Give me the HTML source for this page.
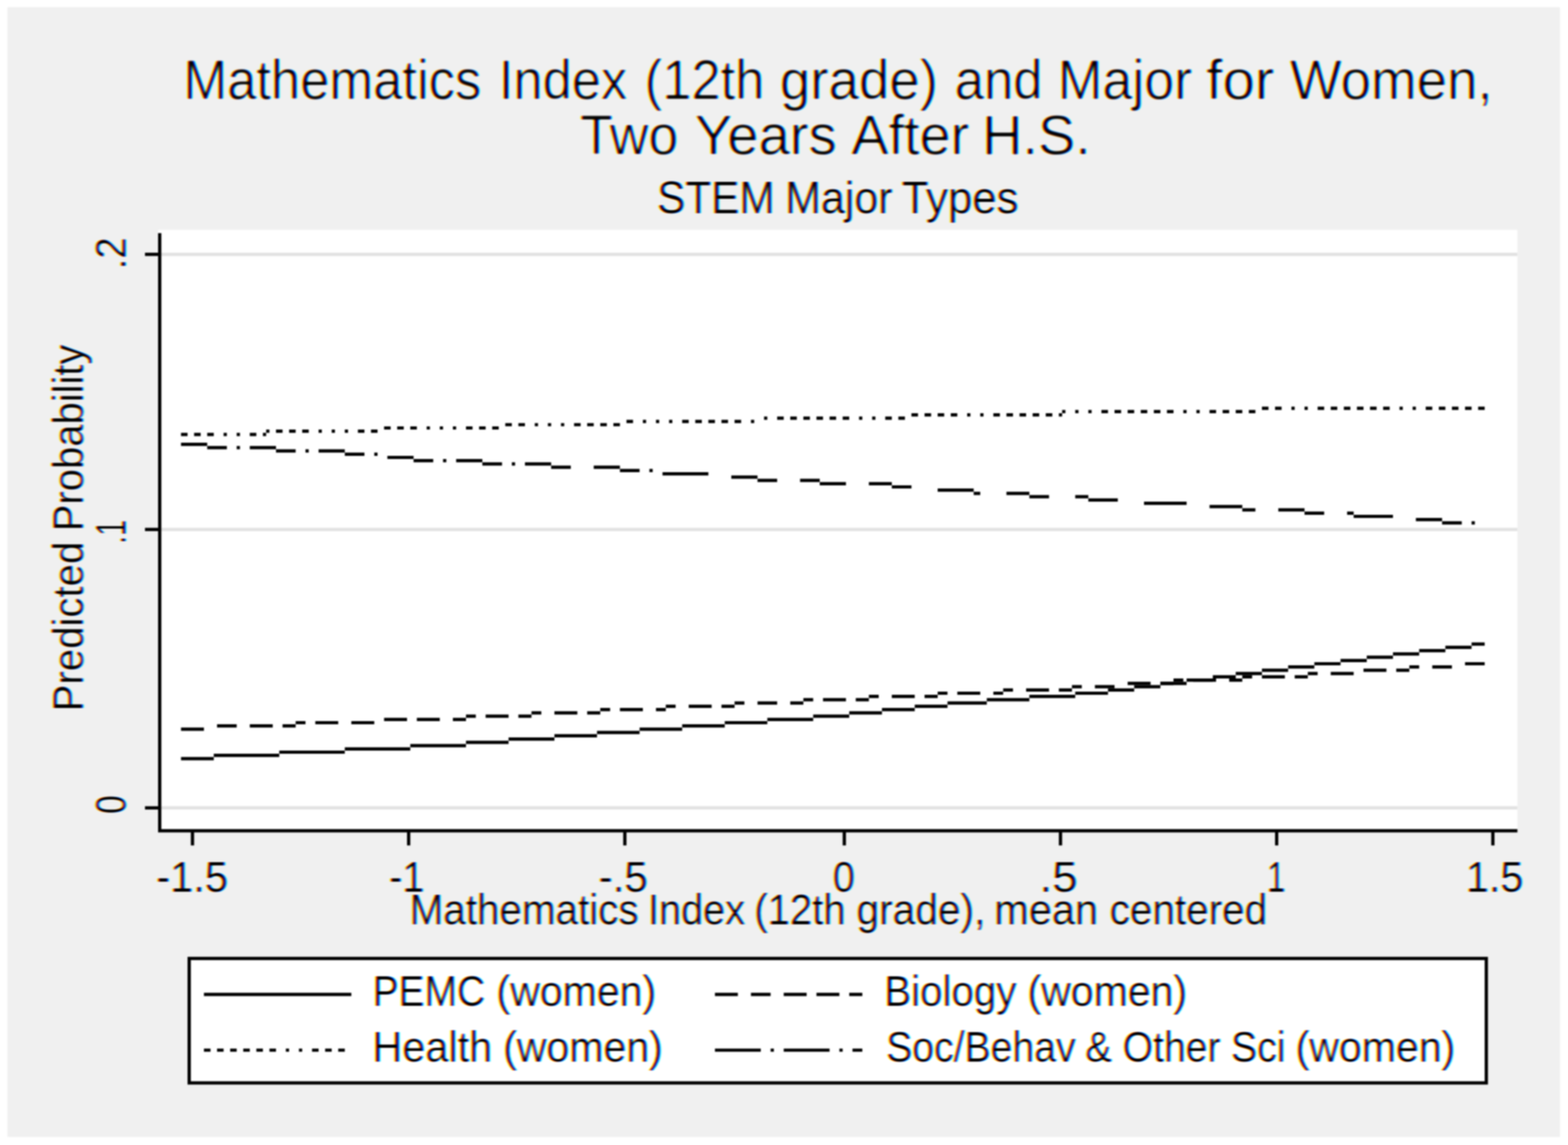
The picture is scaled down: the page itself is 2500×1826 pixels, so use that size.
<!DOCTYPE html>
<html lang="en"><head><meta charset="utf-8"><title>Mathematics Index (12th grade) and Major for Women</title>
<style>html,body{margin:0;padding:0;background:#fff}body{width:2500px;height:1826px;overflow:hidden}svg{display:block}.t{font-family:"Liberation Sans",Arial,Helvetica,sans-serif;fill:#000;white-space:pre}</style></head><body>
<svg width="2500" height="1826" viewBox="0 0 2500 1826">
<defs><filter id="b" x="0" y="0" width="100%" height="100%" filterUnits="userSpaceOnUse" color-interpolation-filters="sRGB"><feGaussianBlur stdDeviation="0.8"/></filter></defs>
<defs><filter id="ct" x="0" y="0" width="2500" height="1826" filterUnits="userSpaceOnUse" color-interpolation-filters="sRGB"><feGaussianBlur in="SourceAlpha" stdDeviation="1.6 0"/><feComponentTransfer result="sa"><feFuncA type="linear" slope="1.2" intercept="-0.2"/></feComponentTransfer><feOffset in="sa" dx="1.74" result="a1"/><feFlood flood-color="#0ff"/><feComposite operator="in" in2="a1" result="c"/><feFlood flood-color="#f0f"/><feComposite operator="in" in2="sa" result="m"/><feOffset in="sa" dx="-1.74" result="a3"/><feFlood flood-color="#ff0"/><feComposite operator="in" in2="a3" result="y"/><feBlend mode="multiply" in="c" in2="m" result="cm"/><feBlend mode="multiply" in="cm" in2="y"/></filter><filter id="ct2" x="0" y="0" width="2500" height="1826" filterUnits="userSpaceOnUse" color-interpolation-filters="sRGB"><feGaussianBlur in="SourceAlpha" stdDeviation="1.6 1.2"/><feComponentTransfer result="sa"><feFuncA type="linear" slope="1.47" intercept="-0.47"/></feComponentTransfer><feOffset in="sa" dx="1.74" result="a1"/><feFlood flood-color="#0ff"/><feComposite operator="in" in2="a1" result="c"/><feFlood flood-color="#f0f"/><feComposite operator="in" in2="sa" result="m"/><feOffset in="sa" dx="-1.74" result="a3"/><feFlood flood-color="#ff0"/><feComposite operator="in" in2="a3" result="y"/><feBlend mode="multiply" in="c" in2="m" result="cm"/><feBlend mode="multiply" in="cm" in2="y"/></filter></defs>
<rect width="2500" height="1826" fill="#fff"/>
<g filter="url(#b)">
<rect x="11.8" y="11.39" width="2475.47" height="1801.76" fill="#f0f0f0"/>
<rect x="252.04" y="366.52" width="2167.34" height="960.94" fill="#fff"/>
<rect x="257.26" y="403.08" width="2162.12" height="5.22" fill="#e2e2e2"/>
<rect x="257.26" y="841.77" width="2162.12" height="5.22" fill="#e2e2e2"/>
<rect x="257.26" y="1285.69" width="2162.12" height="5.22" fill="#e2e2e2"/>
<g id="health"><path fill="#000" d="M288.6 690.32h10.45v5.22h-10.45zM309.49 690.32h10.45v5.22h-10.45zM330.38 690.32h10.45v5.22h-10.45zM356.49 690.32h5.22v5.22h-5.22zM377.38 690.32h5.22v5.22h-5.22zM398.27 690.32h10.45v5.22h-10.45zM419.16 690.32h5.22v5.22h-5.22zM424.38 685.1h5.22v5.22h-5.22zM440.05 685.1h10.45v5.22h-10.45zM460.94 685.1h10.45v5.22h-10.45zM481.83 685.1h10.45v5.22h-10.45zM507.94 685.1h5.22v5.22h-5.22zM528.83 685.1h5.22v5.22h-5.22zM549.72 685.1h5.22v5.22h-5.22zM570.61 685.1h10.45v5.22h-10.45zM591.5 685.1h10.45v5.22h-10.45zM612.39 679.88h10.45v5.22h-10.45zM633.28 679.88h10.45v5.22h-10.45zM654.17 679.88h10.45v5.22h-10.45zM680.29 679.88h5.22v5.22h-5.22zM701.18 679.88h5.22v5.22h-5.22zM722.07 679.88h5.22v5.22h-5.22zM742.96 679.88h10.45v5.22h-10.45zM763.85 679.88h10.45v5.22h-10.45zM784.74 679.88h10.45v5.22h-10.45zM805.62 674.65h10.45v5.22h-10.45zM826.51 674.65h10.45v5.22h-10.45zM852.63 674.65h5.22v5.22h-5.22zM873.52 674.65h5.22v5.22h-5.22zM894.41 674.65h5.22v5.22h-5.22zM915.3 674.65h10.45v5.22h-10.45zM936.19 674.65h10.45v5.22h-10.45zM957.08 674.65h10.45v5.22h-10.45zM977.97 674.65h10.45v5.22h-10.45zM998.86 669.43h10.45v5.22h-10.45zM1024.97 669.43h5.22v5.22h-5.22zM1045.86 669.43h5.22v5.22h-5.22zM1066.75 669.43h5.22v5.22h-5.22zM1087.64 669.43h10.45v5.22h-10.45zM1108.53 669.43h10.45v5.22h-10.45zM1129.42 669.43h10.45v5.22h-10.45zM1150.31 669.43h10.45v5.22h-10.45zM1171.2 669.43h10.45v5.22h-10.45zM1197.31 669.43h5.22v5.22h-5.22zM1218.2 664.21h5.22v5.22h-5.22zM1239.09 664.21h10.45v5.22h-10.45zM1259.98 664.21h10.45v5.22h-10.45zM1280.87 664.21h10.45v5.22h-10.45zM1301.76 664.21h10.45v5.22h-10.45zM1322.65 664.21h10.45v5.22h-10.45zM1343.54 664.21h10.45v5.22h-10.45zM1369.65 664.21h5.22v5.22h-5.22zM1390.54 664.21h5.22v5.22h-5.22zM1411.43 664.21h10.45v5.22h-10.45zM1432.33 664.21h10.45v5.22h-10.45zM1453.21 658.99h10.45v5.22h-10.45zM1474.11 658.99h10.45v5.22h-10.45zM1494.99 658.99h10.45v5.22h-10.45zM1515.88 658.99h10.45v5.22h-10.45zM1542 658.99h5.22v5.22h-5.22zM1562.89 658.99h5.22v5.22h-5.22zM1583.78 658.99h10.45v5.22h-10.45zM1604.67 658.99h10.45v5.22h-10.45zM1625.56 658.99h10.45v5.22h-10.45zM1646.45 658.99h10.45v5.22h-10.45zM1667.34 658.99h10.45v5.22h-10.45zM1688.23 658.99h5.22v5.22h-5.22zM1693.45 653.76h5.22v5.22h-5.22zM1714.34 653.76h5.22v5.22h-5.22zM1735.23 653.76h5.22v5.22h-5.22zM1756.12 653.76h10.45v5.22h-10.45zM1777.01 653.76h10.45v5.22h-10.45zM1797.9 653.76h10.45v5.22h-10.45zM1818.79 653.76h10.45v5.22h-10.45zM1839.68 653.76h10.45v5.22h-10.45zM1860.57 653.76h10.45v5.22h-10.45zM1886.68 653.76h5.22v5.22h-5.22zM1907.57 653.76h5.22v5.22h-5.22zM1928.46 653.76h10.45v5.22h-10.45zM1949.35 653.76h10.45v5.22h-10.45zM1970.24 653.76h10.45v5.22h-10.45zM1991.13 653.76h10.45v5.22h-10.45zM2012.02 648.54h10.45v5.22h-10.45zM2032.91 648.54h10.45v5.22h-10.45zM2059.03 648.54h5.22v5.22h-5.22zM2079.91 648.54h5.22v5.22h-5.22zM2100.81 648.54h10.45v5.22h-10.45zM2121.7 648.54h10.45v5.22h-10.45zM2142.59 648.54h10.45v5.22h-10.45zM2163.48 648.54h10.45v5.22h-10.45zM2184.37 648.54h10.45v5.22h-10.45zM2205.26 648.54h10.45v5.22h-10.45zM2231.37 648.54h5.22v5.22h-5.22zM2252.26 648.54h5.22v5.22h-5.22zM2273.15 648.54h10.45v5.22h-10.45zM2294.04 648.54h10.45v5.22h-10.45zM2314.93 648.54h10.45v5.22h-10.45zM2335.82 648.54h10.45v5.22h-10.45zM2356.71 648.54h10.45v5.22h-10.45z"/></g>
<g id="soc"><path fill="#000" d="M288.6 705.99h41.78v5.22h-41.78zM330.38 711.21h31.34v5.22h-31.34zM377.38 711.21h5.22v5.22h-5.22zM398.27 711.21h41.78v5.22h-41.78zM440.05 716.43h31.34v5.22h-31.34zM487.05 716.43h5.22v5.22h-5.22zM507.94 716.43h41.78v5.22h-41.78zM549.72 721.66h31.34v5.22h-31.34zM596.73 721.66h5.22v5.22h-5.22zM617.62 726.88h41.78v5.22h-41.78zM659.39 732.1h31.34v5.22h-31.34zM706.4 732.1h5.22v5.22h-5.22zM727.29 732.1h41.78v5.22h-41.78zM769.07 737.32h31.34v5.22h-31.34zM816.07 737.32h5.22v5.22h-5.22zM836.96 737.32h41.78v5.22h-41.78zM878.74 742.55h31.34v5.22h-31.34zM946.63 742.55h41.78v5.22h-41.78zM988.41 747.77h31.34v5.22h-31.34zM1035.41 747.77h5.22v5.22h-5.22zM1056.3 752.99h73.12v5.22h-73.12zM1165.98 758.21h41.78v5.22h-41.78zM1207.76 763.44h31.34v5.22h-31.34zM1275.65 763.44h31.34v5.22h-31.34zM1306.98 768.66h41.78v5.22h-41.78zM1385.32 768.66h36.56v5.22h-36.56zM1421.88 773.88h31.34v5.22h-31.34zM1494.99 779.1h57.45v5.22h-57.45zM1552.44 784.33h10.45v5.22h-10.45zM1604.67 784.33h36.56v5.22h-36.56zM1641.22 789.55h31.34v5.22h-31.34zM1714.34 789.55h20.89v5.22h-20.89zM1735.23 794.77h47v5.22h-47zM1824.01 799.99h67.89v5.22h-67.89zM1928.46 805.22h52.23v5.22h-52.23zM1980.69 810.44h20.89v5.22h-20.89zM2038.13 810.44h41.78v5.22h-41.78zM2079.91 815.66h31.34v5.22h-31.34zM2147.81 815.66h10.45v5.22h-10.45zM2158.25 820.88h62.67v5.22h-62.67zM2257.48 826.11h41.78v5.22h-41.78zM2299.26 831.33h31.34v5.22h-31.34zM2346.26 831.33h5.22v5.22h-5.22z"/></g>
<g id="bio"><path fill="#000" d="M288.6 1160.35h36.56v5.22h-36.56zM346.05 1155.12h31.34v5.22h-31.34zM398.27 1155.12h36.56v5.22h-36.56zM450.5 1155.12h20.89v5.22h-20.89zM471.39 1149.9h15.67v5.22h-15.67zM502.72 1149.9h36.56v5.22h-36.56zM560.17 1149.9h36.56v5.22h-36.56zM612.39 1144.68h36.56v5.22h-36.56zM664.62 1144.68h36.56v5.22h-36.56zM722.07 1144.68h20.89v5.22h-20.89zM742.96 1139.46h15.67v5.22h-15.67zM774.29 1139.46h36.56v5.22h-36.56zM826.51 1139.46h20.89v5.22h-20.89zM847.41 1134.23h15.67v5.22h-15.67zM883.96 1134.23h36.56v5.22h-36.56zM936.19 1134.23h20.89v5.22h-20.89zM957.08 1129.01h15.67v5.22h-15.67zM988.41 1129.01h36.56v5.22h-36.56zM1045.86 1129.01h15.67v5.22h-15.67zM1061.53 1123.79h15.67v5.22h-15.67zM1098.09 1123.79h36.56v5.22h-36.56zM1150.31 1123.79h20.89v5.22h-20.89zM1171.2 1118.57h15.67v5.22h-15.67zM1207.76 1118.57h31.34v5.22h-31.34zM1259.98 1118.57h20.89v5.22h-20.89zM1280.87 1113.34h15.67v5.22h-15.67zM1312.21 1113.34h36.56v5.22h-36.56zM1364.43 1113.34h20.89v5.22h-20.89zM1385.32 1108.12h15.67v5.22h-15.67zM1421.88 1108.12h36.56v5.22h-36.56zM1474.11 1108.12h20.89v5.22h-20.89zM1494.99 1102.9h15.67v5.22h-15.67zM1526.33 1102.9h36.56v5.22h-36.56zM1583.78 1102.9h15.67v5.22h-15.67zM1599.44 1097.68h15.67v5.22h-15.67zM1636 1097.68h36.56v5.22h-36.56zM1688.23 1097.68h20.89v5.22h-20.89zM1709.12 1092.45h15.67v5.22h-15.67zM1745.67 1092.45h31.34v5.22h-31.34zM1797.9 1087.23h36.56v5.22h-36.56zM1850.12 1087.23h20.89v5.22h-20.89zM1871.01 1082.01h15.67v5.22h-15.67zM1902.35 1082.01h36.56v5.22h-36.56zM1959.8 1082.01h20.89v5.22h-20.89zM1980.69 1076.79h15.67v5.22h-15.67zM2012.02 1076.79h36.56v5.22h-36.56zM2064.25 1076.79h20.89v5.22h-20.89zM2085.14 1071.56h15.67v5.22h-15.67zM2121.7 1071.56h36.56v5.22h-36.56zM2173.92 1066.34h36.56v5.22h-36.56zM2226.14 1066.34h20.89v5.22h-20.89zM2247.04 1061.12h15.67v5.22h-15.67zM2283.59 1061.12h31.34v5.22h-31.34zM2335.82 1055.89h31.34v5.22h-31.34z"/></g>
<g id="pemc"><path fill="#000" d="M288.6 1207.35h52.23v5.22h-52.23zM340.82 1202.12h104.45v5.22h-104.45zM445.27 1196.9h104.45v5.22h-104.45zM549.72 1191.68h104.45v5.22h-104.45zM654.17 1186.46h88.78v5.22h-88.78zM742.96 1181.24h67.89v5.22h-67.89zM810.85 1176.01h73.12v5.22h-73.12zM883.96 1170.79h67.89v5.22h-67.89zM951.86 1165.57h67.89v5.22h-67.89zM1019.75 1160.35h67.89v5.22h-67.89zM1087.64 1155.12h67.89v5.22h-67.89zM1155.53 1149.9h67.89v5.22h-67.89zM1223.42 1144.68h73.12v5.22h-73.12zM1296.54 1139.46h57.45v5.22h-57.45zM1353.99 1134.23h52.23v5.22h-52.23zM1406.21 1129.01h52.23v5.22h-52.23zM1458.44 1123.79h52.23v5.22h-52.23zM1510.66 1118.57h62.67v5.22h-62.67zM1573.33 1113.34h67.89v5.22h-67.89zM1641.22 1108.12h73.12v5.22h-73.12zM1714.34 1102.9h52.23v5.22h-52.23zM1766.57 1097.68h41.78v5.22h-41.78zM1808.35 1092.45h41.78v5.22h-41.78zM1850.12 1087.23h41.78v5.22h-41.78zM1891.9 1082.01h41.78v5.22h-41.78zM1933.68 1076.79h36.56v5.22h-36.56zM1970.24 1071.56h41.78v5.22h-41.78zM2012.02 1066.34h41.78v5.22h-41.78zM2053.8 1061.12h41.78v5.22h-41.78zM2095.58 1055.89h41.78v5.22h-41.78zM2137.36 1050.67h41.78v5.22h-41.78zM2179.14 1045.45h41.78v5.22h-41.78zM2220.92 1040.23h41.78v5.22h-41.78zM2262.7 1035.01h41.78v5.22h-41.78zM2304.48 1029.78h41.78v5.22h-41.78zM2346.26 1024.56h20.89v5.22h-20.89z"/></g>
<path id="axes" fill="#000" d="M252.04 371.75h5.22v955.72h-5.22zM252.04 1322.24h2167.34v5.22h-2167.34zM231.15 403.08h20.89v5.22h-20.89zM231.15 841.77h20.89v5.22h-20.89zM231.15 1285.69h20.89v5.22h-20.89zM304.27 1327.47h5.22v20.89h-5.22zM648.95 1327.47h5.22v20.89h-5.22zM993.63 1327.47h5.22v20.89h-5.22zM1343.54 1327.47h5.22v20.89h-5.22zM1688.23 1327.47h5.22v20.89h-5.22zM2032.91 1327.47h5.22v20.89h-5.22zM2377.6 1327.47h5.22v20.89h-5.22z"/>
<rect x="301.65" y="1528.53" width="2068.11" height="198.46" fill="#fff" stroke="#000" stroke-width="5.22"/>
<g id="legend-keys"><path fill="#000" d="M325.16 1583.37h235.01v5.22h-235.01z"/><path fill="#000" d="M325.16 1672.15h10.45v5.22h-10.45zM346.05 1672.15h10.45v5.22h-10.45zM366.94 1672.15h10.45v5.22h-10.45zM387.83 1672.15h10.45v5.22h-10.45zM408.72 1672.15h10.45v5.22h-10.45zM429.61 1672.15h10.45v5.22h-10.45zM455.72 1672.15h5.22v5.22h-5.22zM476.61 1672.15h5.22v5.22h-5.22zM497.5 1672.15h10.45v5.22h-10.45zM518.39 1672.15h10.45v5.22h-10.45zM539.28 1672.15h10.45v5.22h-10.45z"/><path fill="#000" d="M1139.87 1583.37h36.56v5.22h-36.56zM1197.31 1583.37h31.34v5.22h-31.34zM1249.54 1583.37h36.56v5.22h-36.56zM1301.76 1583.37h36.56v5.22h-36.56zM1353.99 1583.37h20.89v5.22h-20.89z"/><path fill="#000" d="M1139.87 1672.15h73.12v5.22h-73.12zM1228.65 1672.15h5.22v5.22h-5.22zM1249.54 1672.15h73.12v5.22h-73.12zM1338.32 1672.15h5.22v5.22h-5.22zM1359.21 1672.15h15.67v5.22h-15.67z"/></g>
<g id="titles" filter="url(#ct2)" style="mix-blend-mode:multiply"><text class="t" id="title1" y="157.5" font-size="89"><tspan x="292.13" textLength="474.9" lengthAdjust="spacingAndGlyphs">Mathematics</tspan> <tspan x="795.28" textLength="204.62" lengthAdjust="spacingAndGlyphs">Index</tspan> <tspan x="1027.81" textLength="190.62" lengthAdjust="spacingAndGlyphs">(12th</tspan> <tspan x="1243.34" textLength="252.07" lengthAdjust="spacingAndGlyphs">grade)</tspan> <tspan x="1521.93" textLength="140.18" lengthAdjust="spacingAndGlyphs">and</tspan> <tspan x="1686.27" textLength="214.15" lengthAdjust="spacingAndGlyphs">Major</tspan> <tspan x="1923.08" textLength="108.46" lengthAdjust="spacingAndGlyphs">for</tspan> <tspan x="2056.62" textLength="323.18" lengthAdjust="spacingAndGlyphs">Women,</tspan></text><text class="t" id="title2" y="246.2" font-size="89"><tspan x="924.64" textLength="156.54" lengthAdjust="spacingAndGlyphs">Two</tspan> <tspan x="1107.6" textLength="226.23" lengthAdjust="spacingAndGlyphs">Years</tspan> <tspan x="1357.33" textLength="187.65" lengthAdjust="spacingAndGlyphs">After</tspan> <tspan x="1565.69" textLength="173.24" lengthAdjust="spacingAndGlyphs">H.S.</tspan></text></g>
<g id="labels" filter="url(#ct)" style="mix-blend-mode:multiply"><text class="t" id="subtitle" y="340.3" font-size="73"><tspan x="1047.43" textLength="187.61" lengthAdjust="spacingAndGlyphs">STEM</tspan> <tspan x="1251.79" textLength="171.05" lengthAdjust="spacingAndGlyphs">Major</tspan> <tspan x="1437.46" textLength="186.31" lengthAdjust="spacingAndGlyphs">Types</tspan></text><text class="t" id="xtitle" y="1473.5" font-size="68"><tspan x="652.92" textLength="365.11" lengthAdjust="spacingAndGlyphs">Mathematics</tspan> <tspan x="1032.96" textLength="154.72" lengthAdjust="spacingAndGlyphs">Index</tspan> <tspan x="1202.54" textLength="145.5" lengthAdjust="spacingAndGlyphs">(12th</tspan> <tspan x="1365.48" textLength="205.45" lengthAdjust="spacingAndGlyphs">grade),</tspan> <tspan x="1585.11" textLength="165.49" lengthAdjust="spacingAndGlyphs">mean</tspan> <tspan x="1769.06" textLength="251.1" lengthAdjust="spacingAndGlyphs">centered</tspan></text><text class="t" id="leg1" y="1604.3" font-size="68"><tspan x="593.9" textLength="179.46" lengthAdjust="spacingAndGlyphs">PEMC</tspan> <tspan x="791.34" textLength="254.72" lengthAdjust="spacingAndGlyphs">(women)</tspan></text><text class="t" id="leg2" y="1693.1" font-size="68"><tspan x="593.58" textLength="190.91" lengthAdjust="spacingAndGlyphs">Health</tspan> <tspan x="801.94" textLength="254.72" lengthAdjust="spacingAndGlyphs">(women)</tspan></text><text class="t" id="leg3" y="1604.3" font-size="68"><tspan x="1409.73" textLength="210.59" lengthAdjust="spacingAndGlyphs">Biology</tspan> <tspan x="1637.94" textLength="254.62" lengthAdjust="spacingAndGlyphs">(women)</tspan></text><text class="t" id="leg4" y="1693.1" font-size="68"><tspan x="1412.66" textLength="302.15" lengthAdjust="spacingAndGlyphs">Soc/Behav</tspan> <tspan x="1730.27" textLength="42.32" lengthAdjust="spacingAndGlyphs">&amp;</tspan> <tspan x="1789.85" textLength="155.89" lengthAdjust="spacingAndGlyphs">Other</tspan> <tspan x="1962.46" textLength="86.85" lengthAdjust="spacingAndGlyphs">Sci</tspan> <tspan x="2065.54" textLength="254.62" lengthAdjust="spacingAndGlyphs">(women)</tspan></text><text class="t" x="248.95" y="1421.6" font-size="68" textLength="114.44" lengthAdjust="spacingAndGlyphs">-1.5</text><text class="t" x="620.18" y="1421.6" font-size="68" textLength="56.42" lengthAdjust="spacingAndGlyphs">-1</text><text class="t" x="954.21" y="1421.6" font-size="68" textLength="78.62" lengthAdjust="spacingAndGlyphs">-.5</text><text class="t" x="1327.84" y="1421.6" font-size="68" textLength="35.02" lengthAdjust="spacingAndGlyphs">0</text><text class="t" x="1657.35" y="1421.6" font-size="68" textLength="60.7" lengthAdjust="spacingAndGlyphs">.5</text><text class="t" x="2019.64" y="1421.6" font-size="68" textLength="29.67" lengthAdjust="spacingAndGlyphs">1</text><text class="t" x="2336.98" y="1421.6" font-size="68" textLength="91.69" lengthAdjust="spacingAndGlyphs">1.5</text><text class="t" id="ytitle" transform="translate(132.1 1129.2) rotate(-90)" font-size="68"><tspan x="-5.25" textLength="270.58" lengthAdjust="spacingAndGlyphs">Predicted</tspan> <tspan x="282.07" textLength="297.65" lengthAdjust="spacingAndGlyphs">Probability</tspan></text><text class="t" transform="translate(200.1 424.1) rotate(-90)" x="-5.59" font-size="68" textLength="51.07" lengthAdjust="spacingAndGlyphs">.2</text><text class="t" transform="translate(200.1 863.1) rotate(-90)" x="-4.18" font-size="68" textLength="38.22" lengthAdjust="spacingAndGlyphs">.1</text><text class="t" transform="translate(200.1 1296) rotate(-90)" x="-2.09" font-size="68" textLength="29.78" lengthAdjust="spacingAndGlyphs">0</text></g>
</g></svg></body></html>
